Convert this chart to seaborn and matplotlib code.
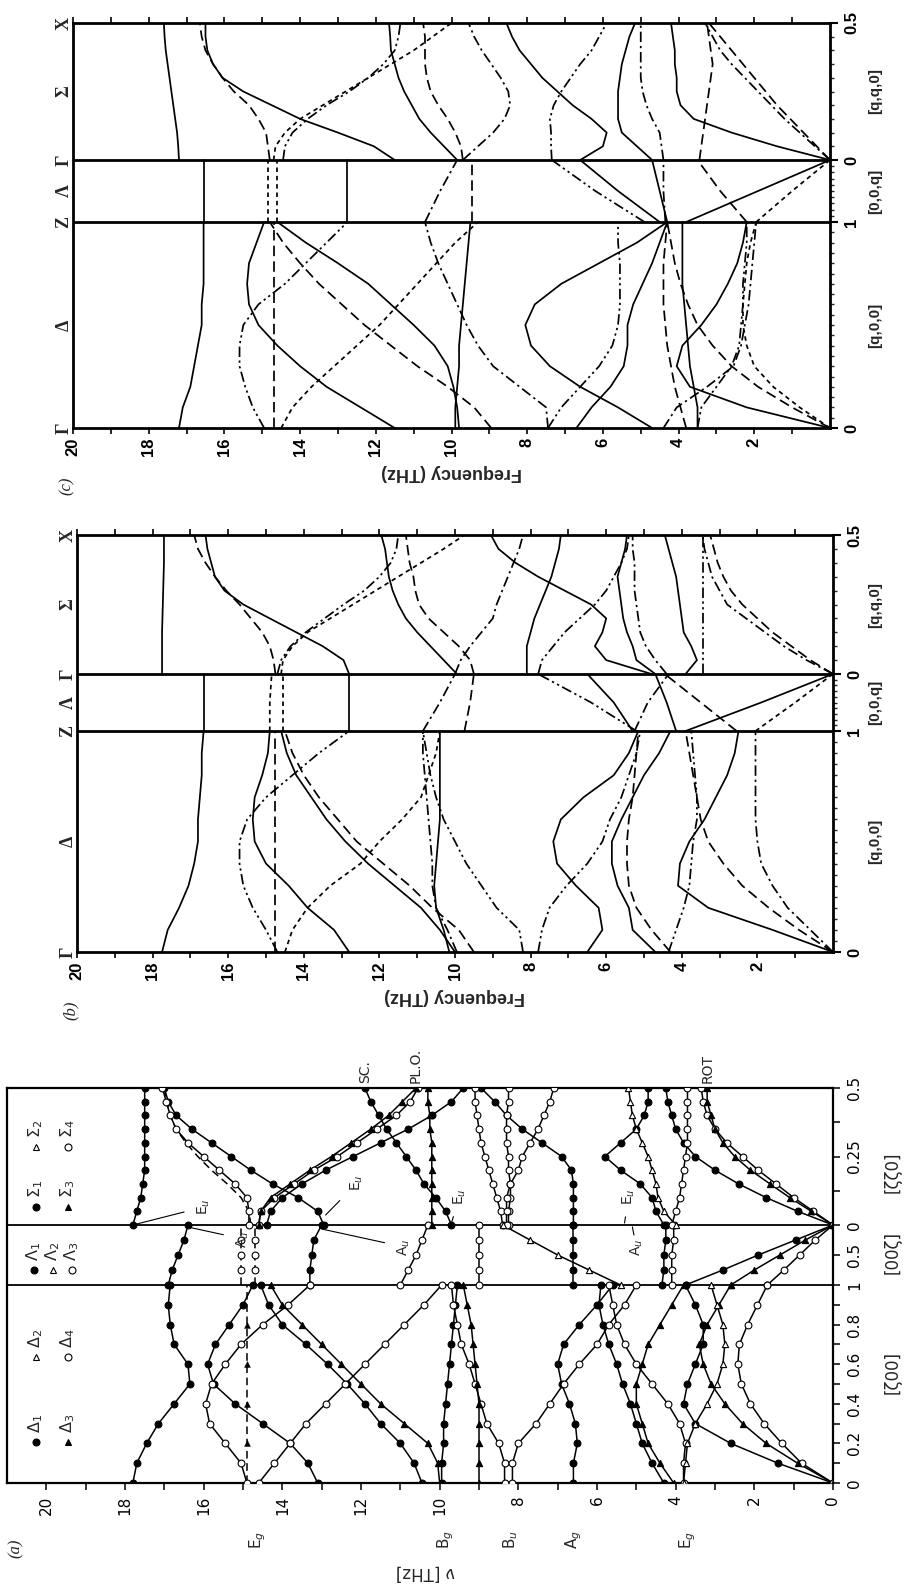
import numpy as np
import pandas as pd
import matplotlib
matplotlib.use("Agg")
import matplotlib.pyplot as plt
import seaborn as sns

# ---------------------------------------------------------
# 1. Data: phonon frequencies (THz)
# ---------------------------------------------------------
delta_q = [0.0, 0.1, 0.2, 0.3, 0.4, 0.5, 0.6, 0.7, 0.8, 0.9, 1.0]
lambda_q = [1.0, 0.5, 0.0]
sigma_q = [0.0, 0.05, 0.1, 0.15, 0.2, 0.25, 0.3, 0.35, 0.4, 0.45, 0.5]
a_lambda_q = [1.0, 0.75, 0.5, 0.25, 0.0]

# panel (c)
c_delta = [
    ("solid", [17.2, 17.1, 16.9, 16.8, 16.7, 16.6, 16.6, 16.55, 16.55, 16.55, 16.55]),
    ("solid", [11.5, 12.4, 13.3, 14.0, 14.6, 15.1, 15.35, 15.4, 15.35, 15.15, 14.95]),
    ("solid", [9.8, 9.85, 9.95, 10.1, 10.45, 11.0, 11.6, 12.2, 13.0, 13.85, 14.6]),
    ("solid", [9.9, 9.9, 9.85, 9.8, 9.8, 9.75, 9.7, 9.65, 9.6, 9.55, 9.5]),
    ("solid", [4.7, 5.6, 6.6, 7.4, 7.9, 8.05, 7.8, 7.1, 6.1, 5.1, 4.3]),
    ("solid", [6.7, 6.3, 5.8, 5.45, 5.35, 5.35, 5.2, 4.95, 4.7, 4.5, 4.3]),
    ("solid", [0.0, 2.2, 3.7, 4.05, 3.9, 3.4, 3.0, 2.7, 2.45, 2.3, 2.2]),
    ("solid", [3.5, 3.5, 3.6, 3.7, 3.75, 3.8, 3.85, 3.9, 3.9, 3.9, 3.9]),
    ("long", [14.7, 14.7, 14.7, 14.7, 14.7, 14.7, 14.7, 14.7, 14.7, 14.7, 14.7]),
    ("long", [8.95, 9.4, 10.1, 10.9, 11.6, 12.3, 12.9, 13.5, 14.0, 14.45, 14.8]),
    ("long", [0.0, 1.0, 1.9, 2.6, 3.1, 3.5, 3.75, 3.95, 4.1, 4.2, 4.3]),
    ("long", [3.8, 3.95, 4.1, 4.2, 4.3, 4.35, 4.4, 4.4, 4.4, 4.35, 4.3]),
    ("short", [14.5, 14.2, 13.7, 13.1, 12.5, 11.9, 11.4, 10.9, 10.4, 9.9, 9.3]),
    ("short", [0.0, 0.8, 1.5, 2.0, 2.2, 2.3, 2.3, 2.25, 2.2, 2.1, 1.95]),
    ("dashdot", [7.45, 7.5, 8.2, 8.9, 9.3, 9.6, 9.85, 10.1, 10.35, 10.55, 10.7]),
    ("dashdot", [4.4, 4.05, 3.25, 2.55, 2.35, 2.25, 2.15, 2.1, 2.05, 2.0, 1.95]),
    ("dashdotdot", [14.95, 15.25, 15.45, 15.6, 15.6, 15.5, 15.1, 14.4, 13.85, 13.3, 12.75]),
    ("dashdotdot", [7.45, 7.1, 6.6, 6.1, 5.75, 5.6, 5.55, 5.55, 5.55, 5.6, 5.6]),
    ("dashdotdot", [3.5, 3.4, 3.0, 2.6, 2.4, 2.35, 2.3, 2.3, 2.25, 2.2, 2.2]),
]
c_lambda = [
    ("solid", [16.55, 16.55, 16.55]),
    ("solid", [12.75, 12.75, 12.75]),
    ("short", [14.85, 14.85, 14.85]),
    ("short", [14.6, 14.6, 14.6]),
    ("long", [9.45, 9.45, 9.45]),
    ("dashdot", [10.7, 10.3, 9.85]),
    ("dashdotdot", [4.9, 6.2, 7.35]),
    ("solid", [4.5, 5.6, 6.6]),
    ("solid", [4.3, 4.5, 4.7]),
    ("long", [2.2, 2.9, 3.5]),
    ("solid", [3.8, 1.9, 0.0]),
    ("short", [1.95, 1.0, 0.0]),
    ("dashdot", [4.35, 4.4, 4.4]),
]
c_sigma = [
    ("solid", [17.2, 17.22, 17.25, 17.3, 17.35, 17.4, 17.45, 17.5, 17.55, 17.58, 17.6]),
    ("solid", [11.5, 12.05, 13.0, 14.0, 14.75, 15.5, 16.05, 16.3, 16.45, 16.5, 16.5]),
    ("long", [14.8, 14.85, 14.9, 15.1, 15.35, 15.75, 16.05, 16.3, 16.5, 16.6, 16.65]),
    ("short", [14.7, 14.65, 14.4, 14.0, 13.4, 12.8, 12.2, 11.6, 11.0, 10.5, 10.0]),
    ("dashdotdot", [14.45, 14.4, 14.2, 13.8, 13.3, 12.7, 12.2, 11.8, 11.5, 11.4, 11.35]),
    ("solid", [9.85, 10.2, 10.55, 10.85, 11.05, 11.25, 11.4, 11.5, 11.6, 11.62, 11.65]),
    ("long", [9.7, 9.75, 9.9, 10.1, 10.35, 10.55, 10.65, 10.7, 10.7, 10.7, 10.75]),
    ("dashdot", [9.7, 9.3, 8.9, 8.6, 8.45, 8.5, 8.7, 8.95, 9.2, 9.4, 9.55]),
    ("solid", [6.6, 6.0, 5.9, 6.3, 6.8, 7.2, 7.6, 7.9, 8.2, 8.4, 8.55]),
    ("dashdotdot", [7.35, 7.37, 7.37, 7.4, 7.3, 7.1, 6.85, 6.6, 6.3, 6.1, 5.9]),
    ("solid", [4.7, 5.1, 5.5, 5.6, 5.6, 5.6, 5.55, 5.5, 5.4, 5.3, 5.15]),
    ("dashdot", [4.4, 4.45, 4.5, 4.7, 4.85, 4.95, 5.0, 5.0, 5.0, 5.0, 5.0]),
    ("long", [3.45, 3.4, 3.35, 3.3, 3.25, 3.2, 3.15, 3.1, 3.15, 3.2, 3.25]),
    ("solid", [0.0, 1.4, 2.6, 3.6, 3.95, 4.05, 4.05, 4.1, 4.1, 4.15, 4.2]),
    ("dashdot", [0.0, 0.4, 0.8, 1.2, 1.55, 1.9, 2.25, 2.6, 2.9, 3.1, 3.3]),
    ("long", [0.0, 0.35, 0.7, 1.05, 1.4, 1.7, 2.0, 2.3, 2.6, 2.9, 3.2]),
]

# panel (b)
b_delta = [
    ("solid", [17.75, 17.6, 17.3, 17.05, 16.9, 16.8, 16.8, 16.75, 16.7, 16.7, 16.65]),
    ("solid", [12.8, 13.2, 13.9, 14.4, 15.0, 15.3, 15.35, 15.3, 15.1, 14.95, 14.9]),
    ("solid", [10.0, 10.4, 10.9, 11.6, 12.3, 12.9, 13.4, 13.8, 14.2, 14.45, 14.6]),
    ("solid", [10.15, 10.3, 10.5, 10.55, 10.5, 10.45, 10.4, 10.4, 10.4, 10.4, 10.4]),
    ("solid", [6.5, 6.1, 6.2, 6.8, 7.3, 7.4, 7.2, 6.6, 5.8, 5.4, 5.15]),
    ("solid", [4.7, 5.3, 5.4, 5.7, 5.85, 5.85, 5.6, 5.3, 5.0, 4.6, 4.3]),
    ("solid", [0.0, 1.6, 3.3, 4.1, 4.05, 3.8, 3.4, 3.1, 2.8, 2.6, 2.5]),
    ("long", [14.75, 14.75, 14.75, 14.75, 14.75, 14.75, 14.75, 14.75, 14.75, 14.75, 14.75]),
    ("long", [9.5, 9.9, 10.6, 11.2, 11.9, 12.6, 13.1, 13.6, 14.0, 14.3, 14.5]),
    ("long", [4.3, 4.8, 5.2, 5.4, 5.45, 5.45, 5.4, 5.3, 5.25, 5.2, 5.15]),
    ("long", [0.0, 0.9, 1.7, 2.4, 2.9, 3.3, 3.5, 3.6, 3.7, 3.8, 3.9]),
    ("short", [14.5, 14.3, 13.9, 13.3, 12.5, 12.0, 11.4, 10.9, 10.7, 10.5, 10.4]),
    ("dashdot", [9.95, 10.2, 10.5, 10.6, 10.6, 10.65, 10.7, 10.75, 10.8, 10.85, 10.85]),
    ("dashdot", [0.0, 0.6, 1.2, 1.6, 1.9, 2.0, 2.05, 2.05, 2.05, 2.05, 2.05]),
    ("dashdotdot", [14.7, 15.0, 15.35, 15.6, 15.7, 15.7, 15.5, 15.0, 14.3, 13.6, 12.8]),
    ("dashdotdot", [8.2, 8.3, 8.9, 9.3, 9.7, 10.0, 10.3, 10.5, 10.65, 10.75, 10.85]),
    ("dashdotdot", [7.8, 7.7, 7.5, 7.05, 6.5, 6.1, 5.9, 5.6, 5.4, 5.2, 5.1]),
    ("dashdotdot", [4.35, 4.15, 3.95, 3.8, 3.75, 3.7, 3.6, 3.6, 3.65, 3.7, 3.75]),
]
b_lambda = [
    ("solid", [16.65, 16.65, 16.65]),
    ("solid", [12.8, 12.8, 12.8]),
    ("short", [14.9, 14.9, 14.85]),
    ("short", [14.55, 14.55, 14.55]),
    ("dashdot", [10.85, 10.4, 10.0]),
    ("long", [9.75, 9.6, 9.5]),
    ("dashdotdot", [5.2, 6.4, 7.8]),
    ("solid", [5.3, 5.8, 6.5]),
    ("solid", [4.15, 4.4, 4.7]),
    ("long", [2.55, 3.5, 4.45]),
    ("dashdot", [5.25, 4.9, 4.35]),
    ("solid", [3.9, 1.9, 0.0]),
    ("short", [2.05, 1.0, 0.0]),
]
b_sigma = [
    ("solid", [17.75, 17.75, 17.75, 17.75, 17.74, 17.73, 17.72, 17.71, 17.7, 17.7, 17.7]),
    ("solid", [12.8, 12.95, 13.5, 14.2, 14.9, 15.6, 16.1, 16.35, 16.45, 16.55, 16.6]),
    ("long", [14.75, 14.8, 14.9, 15.1, 15.4, 15.7, 16.05, 16.35, 16.6, 16.8, 16.9]),
    ("short", [14.6, 14.55, 14.3, 13.9, 13.3, 12.7, 12.1, 11.5, 10.9, 10.3, 9.75]),
    ("dashdotdot", [14.7, 14.6, 14.35, 13.95, 13.45, 12.95, 12.4, 12.0, 11.7, 11.55, 11.5]),
    ("solid", [9.95, 10.3, 10.65, 11.0, 11.3, 11.5, 11.65, 11.75, 11.8, 11.85, 11.95]),
    ("dashdot", [10.0, 9.85, 9.6, 9.3, 9.0, 8.9, 8.75, 8.6, 8.45, 8.3, 8.2]),
    ("long", [9.5, 9.6, 9.9, 10.3, 10.7, 10.95, 11.05, 11.1, 11.2, 11.25, 11.3]),
    ("solid", [8.1, 8.1, 8.1, 8.0, 7.9, 7.75, 7.6, 7.45, 7.35, 7.25, 7.2]),
    ("dashdotdot", [7.8, 7.7, 7.4, 7.1, 6.7, 6.3, 6.0, 5.8, 5.6, 5.45, 5.4]),
    ("solid", [4.8, 6.0, 6.3, 6.1, 6.0, 6.4, 7.1, 7.8, 8.4, 8.85, 9.05]),
    ("solid", [4.7, 5.2, 5.3, 5.45, 5.55, 5.6, 5.65, 5.7, 5.6, 5.5, 5.45]),
    ("dashdot", [4.4, 4.7, 4.95, 5.1, 5.15, 5.2, 5.25, 5.25, 5.25, 5.3, 5.3]),
    ("solid", [3.9, 3.6, 3.75, 3.95, 4.0, 4.05, 4.1, 4.15, 4.25, 4.35, 4.45]),
    ("dashdotdot", [3.45, 3.45, 3.45, 3.45, 3.45, 3.45, 3.45, 3.45, 3.45, 3.45, 3.45]),
    ("dashdot", [0.0, 0.7, 1.3, 1.8, 2.3, 2.8, 3.0, 3.2, 3.3, 3.4, 3.45]),
    ("long", [0.0, 0.6, 1.1, 1.6, 2.0, 2.4, 2.7, 2.9, 3.05, 3.15, 3.25]),
]

# panel (a): measured points (marker type) + model curves
a_delta = [
    ("fc", [17.8, 17.7, 17.45, 17.15, 16.75, 16.35, 16.4, 16.75, 16.85, 16.9, 16.85]),
    ("oc", [14.9, 15.05, 15.45, 15.85, 15.95, 15.8, 15.45, 15.05, 14.5, 13.85, 13.3]),
    ("fc", [13.1, 13.35, 13.8, 14.5, 15.2, 15.75, 15.9, 15.7, 15.35, 15.0, 14.75]),
    ("oc", [14.6, 14.2, 13.8, 13.4, 12.9, 12.4, 11.9, 11.4, 10.9, 10.4, 9.95]),
    ("fc", [10.45, 10.65, 11.0, 11.5, 11.9, 12.35, 12.85, 13.4, 14.0, 14.35, 14.55]),
    ("ft", [10.0, 10.05, 10.3, 10.9, 11.5, 12.0, 12.5, 13.0, 13.5, 14.0, 14.3]),
    ("fc", [9.95, 9.95, 9.9, 9.9, 9.85, 9.8, 9.75, 9.7, 9.65, 9.6, 9.55]),
    ("ft", [9.0, 9.0, 9.0, 9.0, 9.0, 9.05, 9.1, 9.15, 9.2, 9.3, 9.4]),
    ("oc", [8.35, 8.35, 8.5, 8.8, 8.95, 9.1, 9.25, 9.45, 9.55, 9.65, 9.7]),
    ("oc", [8.15, 8.15, 8.0, 7.55, 7.2, 6.85, 6.45, 6.0, 5.7, 5.3, 5.0]),
    ("fc", [6.6, 6.6, 6.5, 6.55, 6.7, 6.9, 7.0, 6.85, 6.45, 6.0, 5.6]),
    ("fc", [4.3, 4.6, 4.85, 5.0, 5.15, 5.35, 5.5, 5.7, 5.85, 5.95, 5.9]),
    ("ft", [4.05, 4.4, 4.7, 4.85, 5.0, 5.0, 4.85, 4.7, 4.4, 4.1, 3.8]),
    ("oc", [3.8, 3.8, 3.75, 3.9, 4.2, 4.6, 5.0, 5.3, 5.5, 5.6, 5.7]),
    ("ot", [3.8, 3.75, 3.7, 3.5, 3.2, 2.95, 2.8, 2.75, 2.8, 2.95, 3.1]),
    ("fc", [0.0, 1.4, 2.6, 3.5, 3.8, 3.7, 3.5, 3.3, 3.3, 3.5, 3.75]),
    ("ft", [0.0, 0.9, 1.7, 2.3, 2.75, 3.1, 3.3, 3.4, 3.2, 2.9, 2.6]),
    ("oc", [0.0, 0.8, 1.3, 1.75, 2.1, 2.33, 2.42, 2.38, 2.17, 1.92, 1.67]),
]
a_delta_dashed = [14.9, 14.9, 14.9, 14.9, 14.9, 14.9, 14.9, 14.9, 14.9, 14.9, 14.9]

a_lambda = [
    ("fc", [16.9, 16.8, 16.65, 16.5, 16.4]),
    ("fc", [13.3, 13.3, 13.25, 13.2, 13.0]),
    ("oc", [11.0, 10.8, 10.6, 10.45, 10.3]),
    ("oc", [9.0, 9.0, 9.0, 9.0, 9.0]),
    ("ot", [5.4, 6.2, 7.0, 7.7, 8.4]),
    ("fc", [6.6, 6.6, 6.6, 6.6, 6.6]),
    ("fc", [4.35, 4.3, 4.3, 4.25, 4.25]),
    ("oc", [4.1, 4.1, 4.1, 4.05, 4.05]),
    ("fc", [3.75, 2.8, 1.9, 0.95, 0.0]),
    ("ft", [2.6, 2.0, 1.35, 0.7, 0.0]),
    ("oc", [1.67, 1.25, 0.85, 0.45, 0.0]),
]
a_lambda_dashed = [
    [15.05, 15.05, 15.05, 15.05, 15.05],
    [14.7, 14.7, 14.7, 14.7, 14.7],
]

a_sigma = [
    ("fc", [17.8, 17.7, 17.6, 17.55, 17.5, 17.5, 17.5, 17.5, 17.5, 17.5, 17.5]),
    ("fc", [12.95, 13.1, 13.6, 14.25, 14.8, 15.3, 15.8, 16.3, 16.7, 16.9, 17.0]),
    ("oc", [14.85, 14.85, 14.9, 15.2, 15.6, 16.0, 16.4, 16.7, 16.85, 16.95, 17.05]),
    ("oc", [14.6, 14.55, 14.2, 13.7, 13.2, 12.6, 12.1, 11.6, 11.1, 10.75, 10.55]),
    ("ft", [14.6, 14.55, 14.3, 13.8, 13.3, 12.75, 12.25, 11.75, 11.3, 10.95, 10.6]),
    ("fc", [14.4, 14.3, 14.0, 13.5, 12.9, 12.2, 11.5, 10.8, 10.2, 9.7, 9.4]),
    ("fc", [9.7, 9.85, 10.1, 10.4, 10.6, 10.85, 11.1, 11.35, 11.55, 11.75, 11.9]),
    ("ft", [10.2, 10.2, 10.2, 10.2, 10.2, 10.2, 10.2, 10.25, 10.25, 10.3, 10.3]),
    ("oc", [8.4, 8.45, 8.55, 8.65, 8.75, 8.85, 8.95, 9.0, 9.05, 9.1, 9.1]),
    ("fc", [6.6, 6.6, 6.6, 6.6, 6.65, 6.9, 7.4, 7.9, 8.3, 8.6, 8.95]),
    ("oc", [8.25, 8.25, 8.2, 8.2, 8.25, 8.25, 8.3, 8.3, 8.3, 8.25, 8.25]),
    ("oc", [8.3, 8.3, 8.3, 8.2, 8.0, 7.9, 7.7, 7.5, 7.35, 7.2, 7.1]),
    ("fc", [4.3, 4.5, 4.6, 4.9, 5.4, 5.8, 5.4, 5.0, 4.8, 4.7, 4.7]),
    ("ot", [4.0, 4.3, 4.45, 4.5, 4.6, 4.7, 4.85, 5.0, 5.1, 5.15, 5.2]),
    ("oc", [4.1, 4.0, 3.9, 3.85, 3.8, 3.75, 3.7, 3.7, 3.7, 3.7, 3.7]),
    ("fc", [0.0, 0.9, 1.7, 2.4, 3.0, 3.5, 3.8, 4.0, 4.1, 4.2, 4.25]),
    ("oc", [0.0, 0.5, 1.0, 1.45, 1.9, 2.3, 2.7, 3.0, 3.2, 3.3, 3.35]),
    ("ft", [0.0, 0.55, 1.1, 1.6, 2.1, 2.5, 2.8, 3.0, 3.1, 3.2, 3.2]),
]
a_sigma_dashed = [14.8, 14.85, 15.05, 15.4, 15.8, 16.15, 16.45, 16.7, 16.85, 16.95, 17.0]

# Gamma-point mode labels of panel (a) (label, THz)
a_gamma_modes = [("E$_g$", 14.63), ("B$_g$", 9.85), ("B$_u$", 8.2), ("A$_g$", 6.6), ("E$_g$", 3.7)]
# labels at X end of panel (a)
a_x_labels = [("SC.", 11.9), ("PL.O.", 10.6), ("ROT", 3.2)]

# ---------------------------------------------------------
# 2. Layout (pixels of the 910 x 1591 figure)
# ---------------------------------------------------------
W, H = 910, 1591
# left, right, top, gamma', Z, bottom
BOX_C = dict(l=73, r=830, top=23, gp=160, z=222, bot=428)
BOX_B = dict(l=77, r=833, top=535, gp=674, z=731, bot=952)
BOX_A = dict(l=7, r=833, top=1088, gp=1225, z=1285, bot=1483)

DASHES = {
    "solid": "",
    "long": (6, 3),
    "short": (2.6, 2.2),
    "dashdot": (6, 2.2, 1.3, 2.2),
    "dashdotdot": (6, 2, 1.3, 2, 1.3, 2),
}
MARK = {"fc": ("o", "black"), "oc": ("o", "white"), "ft": ("^", "black"), "ot": ("^", "white")}

sns.set_theme(style="white")
plt.rcParams["font.family"] = ["DejaVu Sans"]
plt.rcParams["axes.grid"] = False

BOLD = ["Liberation Sans", "DejaVu Sans"]
SERIF = ["Liberation Serif", "DejaVu Serif"]


def fx(x):
    return x / W


def fy(y):
    return 1 - y / H


def seg_lengths(box):
    return box["bot"] - box["z"], box["z"] - box["gp"], box["gp"] - box["top"]


def path_pos(seg, q, lengths):
    ld, ll, ls = lengths
    if seg == "delta":
        return q * ld
    if seg == "lambda":
        return ld + (1 - q) * ll
    return ld + ll + q / 0.5 * ls


def to_frame(branches, seg, qs, lengths, tag):
    rows = []
    for i, (style, vals) in enumerate(branches):
        for q, f in zip(qs, vals):
            rows.append({"branch": f"{tag}-{seg}-{i}", "style": style,
                         "freq": f, "pos": path_pos(seg, q, lengths)})
    return rows


def make_axes(fig, box):
    return fig.add_axes([fx(box["l"]), fy(box["bot"]),
                         (box["r"] - box["l"]) / W, (box["bot"] - box["top"]) / H])


fig = plt.figure(figsize=(W / 100, H / 100), dpi=100)
fig.patch.set_facecolor("white")

# ---------------------------------------------------------
# 3. Panels (b) and (c): calculated dispersion curves
# ---------------------------------------------------------
panels_bc = [
    ("c", BOX_C, c_delta, c_lambda, c_sigma),
    ("b", BOX_B, b_delta, b_lambda, b_sigma),
]
for tag, box, dl, ll, sl in panels_bc:
    ax = make_axes(fig, box)
    lens = seg_lengths(box)
    total = sum(lens)
    rows = (to_frame(dl, "delta", delta_q, lens, tag)
            + to_frame(ll, "lambda", lambda_q, lens, tag)
            + to_frame(sl, "sigma", sigma_q, lens, tag))
    df = pd.DataFrame(rows)
    sns.lineplot(data=df, x="freq", y="pos", units="branch", estimator=None, sort=False,
                 style="style", dashes=DASHES, color="black", linewidth=1.25,
                 legend=False, ax=ax)
    ax.set_xlim(20, 0)
    ax.set_ylim(0, total)
    ax.axhline(lens[0], color="black", lw=2)
    ax.axhline(lens[0] + lens[1], color="black", lw=2)
    for sp in ax.spines.values():
        sp.set_linewidth(2)
        sp.set_color("black")
    ax.set_xlabel("")
    ax.set_ylabel("")

    ax.set_xticks(range(2, 21, 2))
    ax.set_xticklabels([str(v) for v in range(2, 21, 2)], rotation=90,
                       fontsize=12, fontweight="bold", family=BOLD)
    ax.set_xticks(range(1, 20), minor=True)
    ax.tick_params(axis="x", which="both", direction="out", bottom=True, top=True,
                   length=4, width=1.2, pad=3, colors="black")

    ax.yaxis.tick_right()
    ax.set_yticks([0, lens[0], lens[0] + lens[1], total])
    ax.set_yticklabels(["0", "1", "0", "0.5"], rotation=90, va="center",
                       fontsize=12, fontweight="bold", family=BOLD)
    minor = [lens[0] * k / 20 for k in range(1, 20)]
    minor += [lens[0] + lens[1] * k / 10 for k in range(1, 10)]
    minor += [lens[0] + lens[1] + lens[2] * k / 10 for k in range(1, 10)]
    ax.set_yticks(minor, minor=True)
    ax.tick_params(axis="y", which="major", direction="out", right=True, left=False,
                   length=6, width=1.5, pad=4, colors="black")
    ax.tick_params(axis="y", which="minor", direction="out", right=True, left=False,
                   length=3, width=1)

    # high-symmetry labels on the left side
    sym_y = [box["bot"], (box["bot"] + box["z"]) / 2, box["z"], (box["z"] + box["gp"]) / 2,
             box["gp"], (box["gp"] + box["top"]) / 2, box["top"]]
    for lab, yy in zip(["Γ", "Δ", "Z", "Λ", "Γ", "Σ", "X"], sym_y):
        fig.text(fx(box["l"] - 9), fy(yy), lab, rotation=90, ha="center", va="center",
                 fontsize=13, fontweight="bold", family=SERIF)
    # direction labels on the right side
    dir_y = [(box["bot"] + box["z"]) / 2, (box["z"] + box["gp"]) / 2, (box["gp"] + box["top"]) / 2]
    for lab, yy in zip(["[q,0,0]", "[0,0,q]", "[q,q,0]"], dir_y):
        fig.text(fx(875), fy(yy), lab, rotation=90, ha="center", va="center",
                 fontsize=11, fontweight="bold", family=BOLD)
    fig.text(fx((box["l"] + box["r"]) / 2), fy(box["bot"] + 44), "Frequency (THz)",
             rotation=180, ha="center", va="center", fontsize=13, fontweight="bold", family=BOLD)
    fig.text(fx(box["l"] - 6), fy(box["bot"] + 58), f"({tag})", rotation=90,
             ha="center", va="center", fontsize=12, style="italic", family=SERIF)

# ---------------------------------------------------------
# 4. Panel (a): measured points with model curves
# ---------------------------------------------------------
box = BOX_A
ax = make_axes(fig, box)
lens = seg_lengths(box)
total = sum(lens)
rows = (to_frame(a_delta, "delta", delta_q, lens, "a")
        + to_frame(a_lambda, "lambda", a_lambda_q, lens, "a")
        + to_frame(a_sigma, "sigma", sigma_q, lens, "a"))
dfa = pd.DataFrame(rows)
sns.lineplot(data=dfa, x="freq", y="pos", units="branch", estimator=None, sort=False,
             color="black", linewidth=1.1, legend=False, ax=ax)

dash_rows = to_frame([("long", a_delta_dashed)], "delta", delta_q, lens, "ad")
dash_rows += to_frame([("long", v) for v in a_lambda_dashed], "lambda", a_lambda_q, lens, "al")
dash_rows += to_frame([("long", a_sigma_dashed)], "sigma", sigma_q, lens, "as")
dfd = pd.DataFrame(dash_rows)
sns.lineplot(data=dfd, x="freq", y="pos", units="branch", estimator=None, sort=False,
             color="black", linewidth=1.1, legend=False, ax=ax)
for line in ax.lines[-len(dfd["branch"].unique()):]:
    line.set_dashes((5, 3))

for key, (m, fc) in MARK.items():
    sub = dfa[dfa["style"] == key]
    sns.scatterplot(data=sub, x="freq", y="pos", marker=m, color=fc, edgecolor="black",
                    linewidth=0.8, s=24 if m == "o" else 20, legend=False, ax=ax, zorder=3)
# a few markers on the dashed E_g line and the Lambda dashed pair
dd = dfd[dfd["branch"].str.startswith("ad")].iloc[2:10:2]
sns.scatterplot(data=dd, x="freq", y="pos", marker="^", color="black", edgecolor="black",
                s=18, legend=False, ax=ax, zorder=3)
dl = dfd[dfd["branch"].str.startswith("al")]
dl = dl[(dl["pos"] > lens[0] + 1) & (dl["pos"] < lens[0] + lens[1] - 1)]
sns.scatterplot(data=dl, x="freq", y="pos", marker="o", color="white", edgecolor="black",
                linewidth=0.8, s=24, legend=False, ax=ax, zorder=3)

ax.set_xlim(21, 0)
ax.set_ylim(0, total)
ax.axhline(lens[0], color="black", lw=1.3)
ax.axhline(lens[0] + lens[1], color="black", lw=1.3)
for sp in ax.spines.values():
    sp.set_linewidth(1.6)
    sp.set_color("black")
ax.set_xlabel("")
ax.set_ylabel("")
ax.set_xticks(range(0, 21, 2))
ax.set_xticklabels([str(v) for v in range(0, 21, 2)], rotation=90, fontsize=11)
ax.set_xticks(range(1, 21, 2), minor=True)
ax.tick_params(axis="x", which="both", direction="out", bottom=True, length=5,
               width=1.1, pad=4, colors="black")
ax.yaxis.tick_right()
ld, ll, ls = lens
ax.set_yticks([0, ld * 0.2, ld * 0.4, ld * 0.6, ld * 0.8, ld, ld + ll / 2, ld + ll,
               ld + ll + ls / 2, total])
ax.set_yticklabels(["0", "0.2", "0.4", "0.6", "0.8", "1", "0.5", "0", "0.25", "0.5"],
                   rotation=90, va="center", fontsize=11)
ax.set_yticks([ld * k / 10 for k in range(1, 10, 2)] + [ld + ll + ls * k / 4 for k in (1, 3)],
              minor=True)
ax.tick_params(axis="y", which="both", direction="out", right=True, left=False,
               length=5, width=1.1, pad=5, colors="black")

for lab, yy in zip(["[ζ00]", "[00ζ]", "[ζζ0]"], [1372, 1252, 1172]):
    fig.text(fx(893), fy(yy), lab, rotation=90, ha="center", va="center", fontsize=12)


def ax_px(f):
    return box["r"] - f / 21 * (box["r"] - box["l"])


for lab, f in a_gamma_modes:
    fig.text(fx(ax_px(f)), fy(1540), lab, rotation=90, ha="center", va="center", fontsize=11)
for lab, f in a_x_labels:
    fig.text(fx(ax_px(f)), fy(box["top"] - 5), lab, rotation=90, ha="center", va="bottom",
             fontsize=10)
fig.text(fx(425), fy(1572), "ν [THz]", rotation=180, ha="center", va="center", fontsize=12)
fig.text(fx(16), fy(1548), "(a)", rotation=90, ha="center", va="center", fontsize=12,
         style="italic", family=SERIF)

# symmetry annotations with pointer lines (label, point THz, point pos, text THz, text pos)
gp = ld + ll
notes = [
    ("E$_u$", 17.8, gp, 16.0, gp + 18),
    ("A$_u$", 16.4, gp - 2, 15.0, gp - 14),
    ("E$_u$", 12.9, gp + 10, 12.1, gp + 42),
    ("A$_u$", 13.0, gp - 4, 10.9, gp - 22),
    ("E$_u$", 9.7, gp + 2, 9.5, gp + 28),
    ("E$_u$", 5.3, gp + 2, 5.2, gp + 28),
    ("A$_u$", 5.1, gp - 2, 5.0, gp - 22),
]
for lab, f0, p0, f1, p1 in notes:
    ax.annotate(lab, xy=(f0, p0), xytext=(f1, p1), rotation=90, ha="center", va="center",
                fontsize=10, arrowprops=dict(arrowstyle="-", lw=0.8, color="black",
                                             shrinkA=6, shrinkB=0))

# legend of symmetry classes (drawn in axes fraction coordinates)
legend_items = [
    (36, 1442, "fc", r"$\Delta_1$"), (68, 1442, "ft", r"$\Delta_3$"),
    (36, 1357, "ot", r"$\Delta_2$"), (68, 1357, "oc", r"$\Delta_4$"),
    (34, 1270, "fc", r"$\Lambda_1$"), (53, 1270, "ot", r"$\Lambda_2$"),
    (72, 1270, "oc", r"$\Lambda_3$"),
    (36, 1207, "fc", r"$\Sigma_1$"), (68, 1207, "ft", r"$\Sigma_3$"),
    (36, 1147, "ot", r"$\Sigma_2$"), (68, 1147, "oc", r"$\Sigma_4$"),
]
for px_, py_, key, lab in legend_items:
    m, fc = MARK[key]
    axx = (px_ - box["l"]) / (box["r"] - box["l"])
    axy = (box["bot"] - py_) / (box["bot"] - box["top"])
    ax.plot([axx], [axy], marker=m, mfc=fc, mec="black", ms=5, mew=0.8,
            transform=ax.transAxes, clip_on=False)
    ax.text(axx, axy + 9 / (box["bot"] - box["top"]), lab, rotation=90, ha="center",
            va="bottom", fontsize=11.5, transform=ax.transAxes)

fig.savefig("out.png", dpi=100, facecolor="white")
